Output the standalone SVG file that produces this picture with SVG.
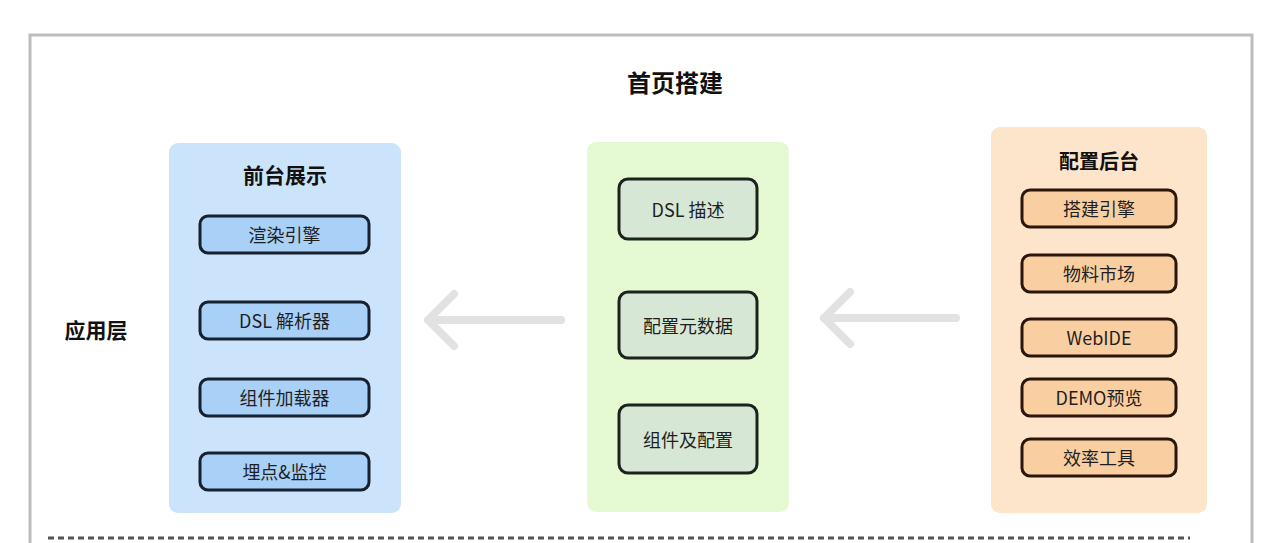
<svg xmlns="http://www.w3.org/2000/svg" width="1277" height="543" viewBox="0 0 1277 543">
<style>
text{font-family:"Noto Sans CJK SC","Noto Sans",sans-serif;text-anchor:middle;dominant-baseline:central;fill:#1f1f1f}
.t{font-weight:bold;font-size:20px;fill:#111}
.l{font-size:18px}
.bb{fill:#a9d0f7;stroke:#16202e;stroke-width:3}
.gb{fill:#d7e7d5;stroke:#1c221c;stroke-width:3}
.ob{fill:#f9cfa2;stroke:#2a160a;stroke-width:3}
.arr{fill:none;stroke:#e2e2e2;stroke-width:8;stroke-linecap:round;stroke-linejoin:round}
</style>
<rect x="0" y="0" width="1277" height="543" fill="#fff"/>
<rect x="30" y="35" width="1222" height="520" fill="#fff" stroke="#bcbcbc" stroke-width="3"/>
<line x1="48" y1="538" x2="1190" y2="538" stroke="#555" stroke-width="3" stroke-dasharray="6 4"/>
<text class="t" x="675" y="81" style="font-size:24px">首页搭建</text>
<text class="t" x="96" y="329" style="font-size:21px">应用层</text>
<g id="front">
<rect x="169" y="143" width="232" height="370" rx="9" fill="#cce4fb"/>
<text class="t" x="285" y="174" style="font-size:21px">前台展示</text>
<g id="render"><rect class="bb" x="200" y="216" width="169" height="37" rx="8"/><text class="l" x="284.5" y="234">渲染引擎</text></g>
<g id="dslparser"><rect class="bb" x="200" y="302" width="169" height="37" rx="8"/><text class="l" x="284.5" y="320">DSL 解析器</text></g>
<g id="loader"><rect class="bb" x="200" y="379" width="169" height="37" rx="8"/><text class="l" x="284.5" y="397">组件加载器</text></g>
<g id="monitor"><rect class="bb" x="200" y="453" width="169" height="37" rx="8"/><text class="l" x="284.5" y="471">埋点&amp;监控</text></g>
</g>
<g id="middle">
<rect x="587" y="142" width="202" height="370" rx="9" fill="#e5fad2"/>
<g id="dsl"><rect class="gb" x="619" y="179" width="138" height="60" rx="9"/><text class="l" x="688" y="209">DSL 描述</text></g>
<g id="meta"><rect class="gb" x="619" y="292" width="138" height="66" rx="9"/><text class="l" x="688" y="325">配置元数据</text></g>
<g id="comp"><rect class="gb" x="619" y="405" width="138" height="68" rx="9"/><text class="l" x="688" y="439">组件及配置</text></g>
</g>
<g id="back">
<rect x="991" y="127" width="216" height="386" rx="9" fill="#fde5cb"/>
<text class="t" x="1099" y="160">配置后台</text>
<g id="engine"><rect class="ob" x="1022" y="190" width="154" height="37" rx="8"/><text class="l" x="1099" y="208">搭建引擎</text></g>
<g id="market"><rect class="ob" x="1022" y="255" width="154" height="37" rx="8"/><text class="l" x="1099" y="273">物料市场</text></g>
<g id="webide"><rect class="ob" x="1022" y="319" width="154" height="37" rx="8"/><text class="l" x="1099" y="337">WebIDE</text></g>
<g id="demo"><rect class="ob" x="1022" y="379" width="154" height="37" rx="8"/><text class="l" x="1099" y="397">DEMO预览</text></g>
<g id="tools"><rect class="ob" x="1022" y="439" width="154" height="37" rx="8"/><text class="l" x="1099" y="457">效率工具</text></g>
</g>
<g id="connectors">
<path class="arr" d="M561 320 H428 M454 294 L428 320 L454 346"/>
<path class="arr" d="M956 318 H824 M850 292 L824 318 L850 344"/>
</g>
</svg>
